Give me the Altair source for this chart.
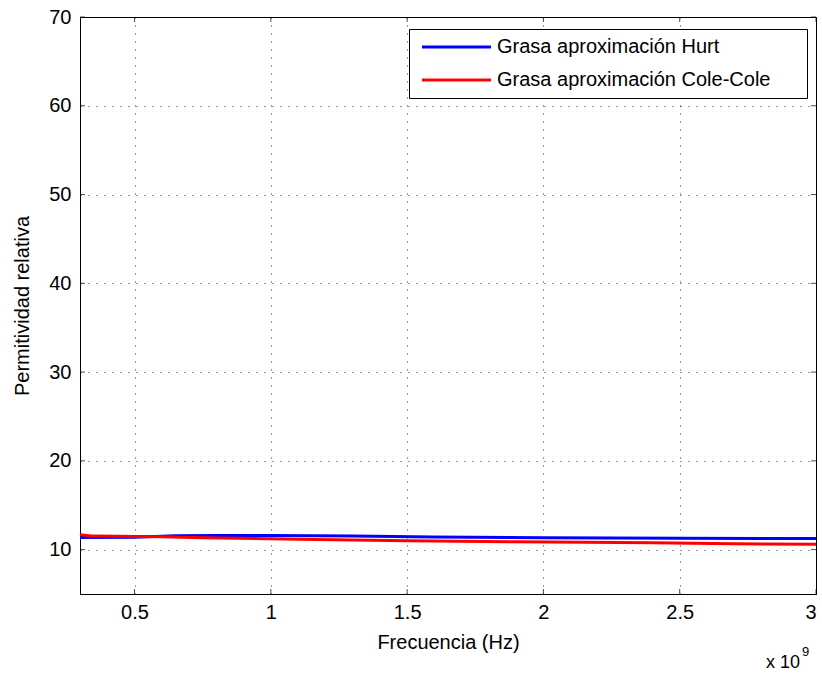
import altair as alt
import pandas as pd

# ---- data (frequency in units of 1e9 Hz) ----
series_names = ["Grasa aproximación Hurt", "Grasa aproximación Cole-Cole"]
hurt_freq = [0.3, 0.5, 0.65, 0.8, 1.0, 1.3, 1.6, 2.0, 2.5, 3.0]
hurt_eps = [11.36, 11.40, 11.56, 11.60, 11.60, 11.52, 11.42, 11.35, 11.28, 11.24]
cole_freq = [0.3, 0.35, 0.6, 0.75, 1.1, 1.5, 1.9, 2.4, 2.7, 3.0]
cole_eps = [11.68, 11.52, 11.45, 11.33, 11.17, 11.00, 10.88, 10.78, 10.66, 10.60]
x_ticks = [0.5, 1, 1.5, 2, 2.5, 3]
y_ticks = [10, 20, 30, 40, 50, 60, 70]

W, H = 736, 577
FONT = "Liberation Sans"

df = pd.concat([
    pd.DataFrame({"f": hurt_freq, "eps": hurt_eps, "serie": series_names[0]}),
    pd.DataFrame({"f": cole_freq, "eps": cole_eps, "serie": series_names[1]}),
])

xscale = alt.Scale(domain=[0.3, 3], nice=False, zero=False)
yscale = alt.Scale(domain=[5, 70], nice=False, zero=False)

x = alt.X("f:Q", scale=xscale, axis=alt.Axis(
    values=x_ticks, format="~g", title="Frecuencia (Hz)", grid=True,
    gridDash=[1, 7], gridColor="black", gridOpacity=0.8, tickSize=0,
    labelPadding=8, titlePadding=10, labelFont=FONT, labelFontSize=20,
    titleFont=FONT, titleFontSize=20, titleFontWeight="normal",
    labelColor="black", titleColor="black", domainColor="black"))
y = alt.Y("eps:Q", scale=yscale, axis=alt.Axis(
    values=y_ticks, format="d", title="Permitividad relativa", grid=True,
    gridDash=[1, 7], gridColor="black", gridOpacity=0.8, tickSize=0,
    labelPadding=9, titlePadding=16, labelFont=FONT, labelFontSize=20,
    titleFont=FONT, titleFontSize=20, titleFontWeight="normal",
    labelColor="black", titleColor="black", domainColor="black"))

# trailing no-break spaces (kept by a zero-width char) widen the legend box
pad = "\u00a0" * 5 + "\u200b"
color = alt.Color("serie:N", scale=alt.Scale(domain=series_names, range=["#0000ff", "#ff0000"]),
                  legend=alt.Legend(
                      orient="none", legendX=329, legendY=12, title=None,
                      symbolType="M-0.59,0H7.53", symbolSize=289, symbolStrokeWidth=3,
                      labelFont=FONT, labelFontSize=20, labelColor="black",
                      labelOffset=60, labelLimit=500, padding=8, rowPadding=13,
                      strokeColor="black", fillColor="white",
                      labelExpr="datum.label + '" + pad + "'"))

base = alt.Chart(df).encode(x=x, y=y, color=color)
blue = base.transform_filter(alt.datum.serie == series_names[0]).mark_line(strokeWidth=3)
red = base.transform_filter(alt.datum.serie == series_names[1]).mark_line(strokeWidth=3)

xt = pd.DataFrame({"f": x_ticks})
yt = pd.DataFrame({"eps": y_ticks})
tick_x_bot = alt.Chart(xt).mark_tick(orient="vertical", size=5, thickness=1, color="black").encode(
    x=alt.X("f:Q", scale=xscale), y=alt.value(H - 2.5))
tick_x_top = alt.Chart(xt).mark_tick(orient="vertical", size=5, thickness=1, color="black").encode(
    x=alt.X("f:Q", scale=xscale), y=alt.value(2.5))
tick_y_left = alt.Chart(yt).mark_tick(orient="horizontal", size=5, thickness=1, color="black").encode(
    y=alt.Y("eps:Q", scale=yscale), x=alt.value(2.5))
tick_y_right = alt.Chart(yt).mark_tick(orient="horizontal", size=5, thickness=1, color="black").encode(
    y=alt.Y("eps:Q", scale=yscale), x=alt.value(W - 2.5))

exp_df = pd.DataFrame({"t": ["x 10"]})
exp_df2 = pd.DataFrame({"t": ["9"]})
mult = alt.Chart(exp_df).mark_text(font=FONT, fontSize=18, align="right", baseline="alphabetic", color="black").encode(
    text="t:N", x=alt.value(720), y=alt.value(651))
sup = alt.Chart(exp_df2).mark_text(font=FONT, fontSize=13, align="left", baseline="alphabetic", color="black").encode(
    text="t:N", x=alt.value(722), y=alt.value(639))

chart = alt.layer(blue, red, tick_x_bot, tick_x_top, tick_y_left, tick_y_right, mult, sup).properties(
    width=W, height=H,
    autosize=alt.AutoSizeParams(type="none"),
    padding={"left": 80, "top": 17, "right": 6, "bottom": 79},
    background="white",
).configure_view(stroke="black", strokeWidth=1)

chart.save("out.html", embed_options={"renderer": "svg", "actions": False})
